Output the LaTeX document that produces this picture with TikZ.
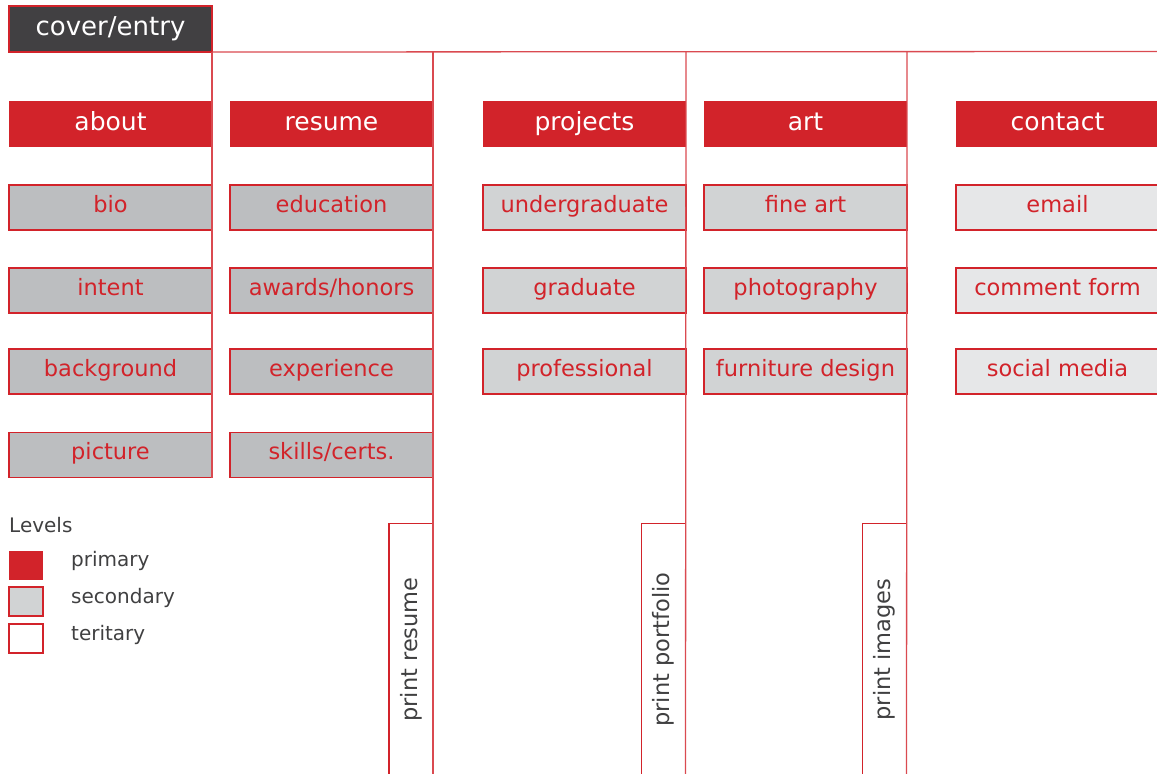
\documentclass[tikz,border=0pt]{standalone}
\usepackage{fontspec}
\setmainfont{DejaVu Sans}
\definecolor{brand}{HTML}{D2232A}
\definecolor{linec}{HTML}{DA4A50}
\definecolor{darkbox}{HTML}{414042}
\definecolor{gA}{HTML}{BCBEC0}
\definecolor{gB}{HTML}{D1D3D4}
\definecolor{gC}{HTML}{E6E7E8}
\definecolor{txt}{HTML}{404041}
\begin{document}
\begin{tikzpicture}[x=1pt,y=-1pt,
  prim/.style={fill=brand, draw=none, minimum width=203pt, minimum height=46pt, inner sep=0pt, outer sep=0pt, text=white, font=\fontsize{25}{28}\selectfont, text height=18pt, text depth=6pt},
  sec/.style={draw=brand, line width=1.5pt, minimum width=203pt, minimum height=45pt, inner sep=0pt, outer sep=0pt, text=brand, font=\fontsize{22.5}{25}\selectfont, text height=16pt, text depth=7pt},
  secA/.style={sec, fill=gA},
  secB/.style={sec, fill=gB},
  secC/.style={sec, fill=gC},
  prt/.style={draw=brand, line width=1.5pt, fill=white, minimum width=44pt, minimum height=252pt, inner sep=0pt, outer sep=0pt},
  prtlabel/.style={rotate=90, text=txt, font=\fontsize{22.5}{26}\selectfont, inner sep=0pt},
  conn/.style={draw=linec, line width=1.3pt},
  legsq/.style={minimum width=34pt, minimum height=29pt, inner sep=0pt, outer sep=0pt, line width=1.5pt},
  legtxt/.style={anchor=west, text=txt, font=\fontsize{20}{23}\selectfont, inner sep=0pt}]
\useasboundingbox (0,0) rectangle (1157,774);

% cover
\node[fill=darkbox, draw=brand, line width=2pt, minimum width=203pt, minimum height=46pt, inner sep=0pt, outer sep=0pt, text=white, font=\fontsize{26}{28}\selectfont, text height=18pt, text depth=6pt] (cover) at (110.5,29) {cover/entry};

% primary
\node[prim] (about) at (110.5,124) {about};
\node[prim] (resume) at (331.5,124) {resume};
\node[prim] (projects) at (584.5,124) {projects};
\node[prim] (art) at (805.5,124) {art};
\node[prim] (contact) at (1057.5,124) {contact};

% about column
\node[secA] (bio) at (110.5,207.5) {bio};
\node[secA] (intent) at (110.5,290.5) {intent};
\node[secA] (background) at (110.5,371.5) {background};
\node[secA] (picture) at (110.5,455) {picture};

% resume column
\node[secA] (education) at (331.5,207.5) {education};
\node[secA] (awards) at (331.5,290.5) {awards/honors};
\node[secA] (experience) at (331.5,371.5) {experience};
\node[secA] (skills) at (331.5,455) {skills/certs.};

% projects column
\node[secB] (undergrad) at (584.5,207.5) {undergraduate};
\node[secB] (graduate) at (584.5,290.5) {graduate};
\node[secB] (professional) at (584.5,371.5) {professional};

% art column
\node[secB] (fineart) at (805.5,207.5) {fine art};
\node[secB] (photo) at (805.5,290.5) {photography};
\node[secB] (furniture) at (805.5,371.5) {furniture design};

% contact column
\node[secC] (email) at (1057.5,207.5) {email};
\node[secC] (comment) at (1057.5,290.5) {comment form};
\node[secC] (social) at (1057.5,371.5) {social media};

% print boxes
\node[prt] (printresume) at (411,649.5) {};
\node[prtlabel] at (printresume.center) {print resume};
\node[prt] (printportfolio) at (663.5,649.5) {};
\node[prtlabel] at (printportfolio.center) {print portfolio};
\node[prt] (printimages) at (884.5,649.5) {};
\node[prtlabel] at (printimages.center) {print images};

% connectors
\coordinate (busend) at (1159,51.5);
\coordinate (b1) at (212,51.5);
\coordinate (b2) at (433,51.5);
\coordinate (b3) at (686,51.5);
\coordinate (b4) at (907,51.5);
\draw[conn] (cover.south east) -- (busend);
\draw[conn] (b1) -- (picture.south east);
\draw[conn] (b2) -- (printresume.south east);
\draw[conn] (b3) -- (printportfolio.south east);
\draw[conn] (b4) -- (printimages.south east);

% legend
\node[legtxt] (levels) at (9,525) {Levels};
\node[legsq, fill=brand] (lp) at (26,565) {};
\node[legsq, fill=gB, draw=brand] (ls) at (26,601.5) {};
\node[legsq, fill=white, draw=brand] (lt) at (26,638.5) {};
\node[legtxt] (lpt) at (71,561) {primary};
\node[legtxt] (lst) at (71,598) {secondary};
\node[legtxt] (ltt) at (71,635) {teritary};
\end{tikzpicture}
\end{document}
